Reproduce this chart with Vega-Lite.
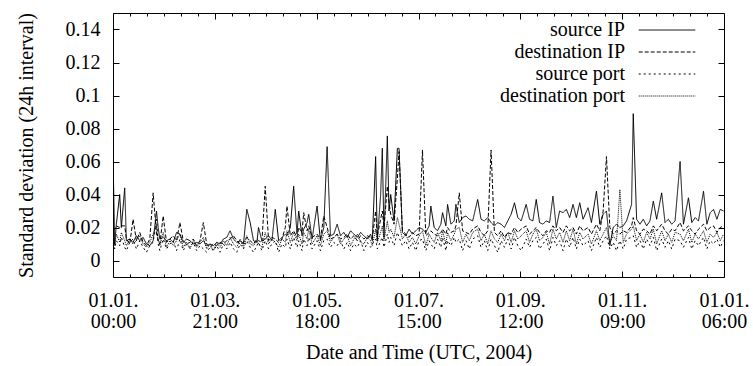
{
"$schema": "https://vega.github.io/schema/vega-lite/v6.json",
"width": 611, "height": 264,
"autosize": {"type": "none"},
"padding": {"left": 113, "top": 13, "right": 29, "bottom": 89},
"background": "white",
"config": {
 "font": "Liberation Serif",
 "view": {"stroke": "black", "strokeWidth": 1},
 "axis": {"domain": false, "grid": false, "tickColor": "black", "tickWidth": 1, "labelColor": "black", "labelFontSize": 20, "labelFont": "Liberation Serif", "titleFont": "Liberation Serif", "titleFontSize": 20, "titleFontWeight": "normal", "titleColor": "black"}
},
"data": {"values": [
{"d":0,"a":0.065,"b":0.020,"c":0.020,"e":0.018},
{"d":1,"a":0.010,"b":0.019,"c":0.007,"e":0.009},
{"d":2,"a":0.022,"b":0.021,"c":0.012,"e":0.016},
{"d":4,"a":0.040,"b":0.020,"c":0.009,"e":0.011},
{"d":5,"a":0.020,"b":0.021,"c":0.014,"e":0.017},
{"d":7,"a":0.044,"b":0.021,"c":0.008,"e":0.012},
{"d":8,"a":0.012,"b":0.013,"c":0.006,"e":0.009},
{"d":10,"a":0.013,"b":0.010,"c":0.011,"e":0.013},
{"d":12,"a":0.011,"b":0.025,"c":0.013,"e":0.010},
{"d":14,"a":0.015,"b":0.012,"c":0.007,"e":0.012},
{"d":16,"a":0.012,"b":0.017,"c":0.012,"e":0.015},
{"d":18,"a":0.014,"b":0.011,"c":0.008,"e":0.010},
{"d":20,"a":0.010,"b":0.009,"c":0.005,"e":0.008},
{"d":22,"a":0.009,"b":0.013,"c":0.009,"e":0.011},
{"d":24,"a":0.012,"b":0.041,"c":0.011,"e":0.016},
{"d":26,"a":0.030,"b":0.016,"c":0.025,"e":0.021},
{"d":27,"a":0.020,"b":0.012,"c":0.010,"e":0.013},
{"d":28,"a":0.013,"b":0.010,"c":0.006,"e":0.009},
{"d":30,"a":0.014,"b":0.027,"c":0.013,"e":0.017},
{"d":32,"a":0.012,"b":0.011,"c":0.007,"e":0.008},
{"d":34,"a":0.013,"b":0.013,"c":0.010,"e":0.012},
{"d":36,"a":0.011,"b":0.015,"c":0.012,"e":0.009},
{"d":38,"a":0.017,"b":0.012,"c":0.006,"e":0.012},
{"d":40,"a":0.016,"b":0.023,"c":0.013,"e":0.016},
{"d":42,"a":0.011,"b":0.012,"c":0.006,"e":0.008},
{"d":44,"a":0.013,"b":0.010,"c":0.010,"e":0.011},
{"d":46,"a":0.012,"b":0.011,"c":0.008,"e":0.007},
{"d":48,"a":0.010,"b":0.013,"c":0.011,"e":0.012},
{"d":50,"a":0.011,"b":0.009,"c":0.006,"e":0.008},
{"d":52,"a":0.010,"b":0.012,"c":0.009,"e":0.011},
{"d":54,"a":0.012,"b":0.023,"c":0.007,"e":0.014},
{"d":56,"a":0.009,"b":0.010,"c":0.005,"e":0.007},
{"d":58,"a":0.010,"b":0.008,"c":0.008,"e":0.010},
{"d":60,"a":0.009,"b":0.010,"c":0.006,"e":0.006},
{"d":62,"a":0.011,"b":0.009,"c":0.009,"e":0.011},
{"d":64,"a":0.010,"b":0.011,"c":0.005,"e":0.008},
{"d":66,"a":0.013,"b":0.010,"c":0.010,"e":0.012},
{"d":68,"a":0.014,"b":0.012,"c":0.007,"e":0.009},
{"d":70,"a":0.018,"b":0.013,"c":0.011,"e":0.014},
{"d":72,"a":0.013,"b":0.015,"c":0.007,"e":0.010},
{"d":74,"a":0.011,"b":0.012,"c":0.005,"e":0.008},
{"d":76,"a":0.012,"b":0.010,"c":0.010,"e":0.013},
{"d":78,"a":0.010,"b":0.011,"c":0.007,"e":0.008},
{"d":80,"a":0.031,"b":0.014,"c":0.012,"e":0.015},
{"d":82,"a":0.023,"b":0.012,"c":0.008,"e":0.010},
{"d":84,"a":0.012,"b":0.010,"c":0.005,"e":0.009},
{"d":86,"a":0.011,"b":0.013,"c":0.009,"e":0.012},
{"d":87,"a":0.020,"b":0.012,"c":0.011,"e":0.010},
{"d":89,"a":0.012,"b":0.011,"c":0.006,"e":0.008},
{"d":91,"a":0.013,"b":0.045,"c":0.012,"e":0.017},
{"d":93,"a":0.015,"b":0.012,"c":0.007,"e":0.010},
{"d":95,"a":0.012,"b":0.014,"c":0.010,"e":0.013},
{"d":97,"a":0.031,"b":0.013,"c":0.012,"e":0.011},
{"d":99,"a":0.012,"b":0.011,"c":0.005,"e":0.008},
{"d":101,"a":0.014,"b":0.013,"c":0.010,"e":0.013},
{"d":103,"a":0.016,"b":0.020,"c":0.008,"e":0.011},
{"d":104,"a":0.015,"b":0.033,"c":0.013,"e":0.018},
{"d":106,"a":0.020,"b":0.015,"c":0.007,"e":0.011},
{"d":108,"a":0.045,"b":0.018,"c":0.014,"e":0.017},
{"d":110,"a":0.016,"b":0.014,"c":0.008,"e":0.012},
{"d":111,"a":0.030,"b":0.020,"c":0.012,"e":0.016},
{"d":113,"a":0.015,"b":0.017,"c":0.006,"e":0.010},
{"d":114,"a":0.019,"b":0.029,"c":0.013,"e":0.017},
{"d":116,"a":0.023,"b":0.018,"c":0.009,"e":0.013},
{"d":117,"a":0.028,"b":0.021,"c":0.014,"e":0.019},
{"d":119,"a":0.013,"b":0.014,"c":0.007,"e":0.010},
{"d":122,"a":0.033,"b":0.016,"c":0.012,"e":0.015},
{"d":124,"a":0.012,"b":0.013,"c":0.006,"e":0.009},
{"d":126,"a":0.020,"b":0.027,"c":0.012,"e":0.016},
{"d":128,"a":0.069,"b":0.020,"c":0.013,"e":0.018},
{"d":130,"a":0.015,"b":0.013,"c":0.008,"e":0.011},
{"d":132,"a":0.016,"b":0.014,"c":0.011,"e":0.014},
{"d":134,"a":0.022,"b":0.016,"c":0.009,"e":0.016},
{"d":136,"a":0.015,"b":0.013,"c":0.012,"e":0.010},
{"d":138,"a":0.017,"b":0.014,"c":0.007,"e":0.013},
{"d":140,"a":0.014,"b":0.016,"c":0.011,"e":0.015},
{"d":142,"a":0.018,"b":0.013,"c":0.006,"e":0.009},
{"d":144,"a":0.016,"b":0.015,"c":0.010,"e":0.013},
{"d":146,"a":0.014,"b":0.012,"c":0.008,"e":0.016},
{"d":148,"a":0.017,"b":0.015,"c":0.012,"e":0.011},
{"d":150,"a":0.015,"b":0.013,"c":0.006,"e":0.010},
{"d":152,"a":0.013,"b":0.015,"c":0.011,"e":0.014},
{"d":154,"a":0.016,"b":0.014,"c":0.008,"e":0.012},
{"d":155,"a":0.012,"b":0.013,"c":0.010,"e":0.009},
{"d":157,"a":0.063,"b":0.030,"c":0.013,"e":0.019},
{"d":158,"a":0.012,"b":0.015,"c":0.007,"e":0.011},
{"d":160,"a":0.040,"b":0.025,"c":0.012,"e":0.017},
{"d":161,"a":0.068,"b":0.030,"c":0.014,"e":0.021},
{"d":162,"a":0.014,"b":0.020,"c":0.008,"e":0.012},
{"d":164,"a":0.0755,"b":0.045,"c":0.016,"e":0.024},
{"d":165,"a":0.030,"b":0.035,"c":0.011,"e":0.017},
{"d":166,"a":0.040,"b":0.028,"c":0.014,"e":0.019},
{"d":168,"a":0.024,"b":0.022,"c":0.009,"e":0.014},
{"d":170,"a":0.068,"b":0.050,"c":0.017,"e":0.026},
{"d":171,"a":0.068,"b":0.066,"c":0.014,"e":0.022},
{"d":173,"a":0.017,"b":0.018,"c":0.009,"e":0.013},
{"d":175,"a":0.015,"b":0.016,"c":0.012,"e":0.016},
{"d":177,"a":0.019,"b":0.014,"c":0.007,"e":0.011},
{"d":179,"a":0.016,"b":0.017,"c":0.011,"e":0.014},
{"d":181,"a":0.018,"b":0.015,"c":0.006,"e":0.010},
{"d":183,"a":0.020,"b":0.016,"c":0.012,"e":0.015},
{"d":185,"a":0.019,"b":0.067,"c":0.013,"e":0.018},
{"d":187,"a":0.017,"b":0.015,"c":0.006,"e":0.009},
{"d":189,"a":0.021,"b":0.017,"c":0.012,"e":0.016},
{"d":190,"a":0.033,"b":0.018,"c":0.010,"e":0.014},
{"d":192,"a":0.020,"b":0.016,"c":0.007,"e":0.011},
{"d":194,"a":0.018,"b":0.015,"c":0.013,"e":0.017},
{"d":196,"a":0.022,"b":0.017,"c":0.008,"e":0.012},
{"d":197,"a":0.029,"b":0.019,"c":0.014,"e":0.018},
{"d":199,"a":0.021,"b":0.016,"c":0.006,"e":0.010},
{"d":200,"a":0.034,"b":0.020,"c":0.012,"e":0.017},
{"d":202,"a":0.022,"b":0.017,"c":0.009,"e":0.012},
{"d":204,"a":0.024,"b":0.018,"c":0.014,"e":0.016},
{"d":205,"a":0.034,"b":0.021,"c":0.011,"e":0.019},
{"d":207,"a":0.023,"b":0.041,"c":0.013,"e":0.020},
{"d":209,"a":0.026,"b":0.018,"c":0.006,"e":0.011},
{"d":211,"a":0.027,"b":0.017,"c":0.012,"e":0.016},
{"d":213,"a":0.025,"b":0.016,"c":0.007,"e":0.012},
{"d":215,"a":0.024,"b":0.019,"c":0.013,"e":0.017},
{"d":218,"a":0.037,"b":0.021,"c":0.015,"e":0.019},
{"d":220,"a":0.025,"b":0.017,"c":0.008,"e":0.012},
{"d":222,"a":0.024,"b":0.015,"c":0.012,"e":0.016},
{"d":224,"a":0.026,"b":0.018,"c":0.006,"e":0.010},
{"d":226,"a":0.023,"b":0.067,"c":0.013,"e":0.018},
{"d":228,"a":0.021,"b":0.017,"c":0.009,"e":0.013},
{"d":230,"a":0.023,"b":0.015,"c":0.005,"e":0.011},
{"d":232,"a":0.022,"b":0.018,"c":0.012,"e":0.016},
{"d":234,"a":0.020,"b":0.014,"c":0.008,"e":0.012},
{"d":236,"a":0.024,"b":0.017,"c":0.013,"e":0.017},
{"d":238,"a":0.028,"b":0.016,"c":0.007,"e":0.011},
{"d":240,"a":0.035,"b":0.020,"c":0.014,"e":0.018},
{"d":242,"a":0.026,"b":0.017,"c":0.009,"e":0.013},
{"d":244,"a":0.024,"b":0.019,"c":0.006,"e":0.015},
{"d":247,"a":0.034,"b":0.021,"c":0.013,"e":0.018},
{"d":249,"a":0.025,"b":0.016,"c":0.008,"e":0.011},
{"d":251,"a":0.024,"b":0.018,"c":0.012,"e":0.016},
{"d":253,"a":0.037,"b":0.020,"c":0.014,"e":0.019},
{"d":255,"a":0.023,"b":0.017,"c":0.007,"e":0.012},
{"d":257,"a":0.022,"b":0.015,"c":0.010,"e":0.014},
{"d":259,"a":0.024,"b":0.018,"c":0.013,"e":0.017},
{"d":261,"a":0.023,"b":0.017,"c":0.006,"e":0.010},
{"d":263,"a":0.039,"b":0.021,"c":0.014,"e":0.019},
{"d":265,"a":0.020,"b":0.018,"c":0.009,"e":0.013},
{"d":267,"a":0.030,"b":0.020,"c":0.012,"e":0.017},
{"d":269,"a":0.029,"b":0.017,"c":0.006,"e":0.011},
{"d":271,"a":0.031,"b":0.021,"c":0.013,"e":0.018},
{"d":273,"a":0.026,"b":0.018,"c":0.008,"e":0.012},
{"d":275,"a":0.034,"b":0.020,"c":0.014,"e":0.019},
{"d":277,"a":0.026,"b":0.016,"c":0.007,"e":0.010},
{"d":279,"a":0.035,"b":0.021,"c":0.013,"e":0.017},
{"d":281,"a":0.025,"b":0.018,"c":0.009,"e":0.013},
{"d":284,"a":0.032,"b":0.020,"c":0.012,"e":0.016},
{"d":286,"a":0.023,"b":0.016,"c":0.006,"e":0.010},
{"d":289,"a":0.042,"b":0.022,"c":0.014,"e":0.018},
{"d":291,"a":0.022,"b":0.018,"c":0.008,"e":0.012},
{"d":293,"a":0.028,"b":0.030,"c":0.012,"e":0.016},
{"d":295,"a":0.030,"b":0.063,"c":0.015,"e":0.020},
{"d":297,"a":0.009,"b":0.020,"c":0.007,"e":0.011},
{"d":299,"a":0.020,"b":0.016,"c":0.011,"e":0.015},
{"d":301,"a":0.022,"b":0.018,"c":0.006,"e":0.012},
{"d":303,"a":0.020,"b":0.016,"c":0.012,"e":0.043},
{"d":305,"a":0.021,"b":0.018,"c":0.007,"e":0.011},
{"d":307,"a":0.024,"b":0.017,"c":0.013,"e":0.016},
{"d":310,"a":0.034,"b":0.021,"c":0.014,"e":0.019},
{"d":311,"a":0.089,"b":0.026,"c":0.015,"e":0.021},
{"d":313,"a":0.025,"b":0.018,"c":0.008,"e":0.012},
{"d":315,"a":0.022,"b":0.016,"c":0.012,"e":0.016},
{"d":317,"a":0.025,"b":0.019,"c":0.007,"e":0.011},
{"d":319,"a":0.021,"b":0.018,"c":0.013,"e":0.017},
{"d":321,"a":0.024,"b":0.016,"c":0.009,"e":0.013},
{"d":323,"a":0.036,"b":0.021,"c":0.014,"e":0.019},
{"d":325,"a":0.025,"b":0.018,"c":0.006,"e":0.010},
{"d":328,"a":0.041,"b":0.022,"c":0.013,"e":0.018},
{"d":330,"a":0.023,"b":0.018,"c":0.008,"e":0.012},
{"d":332,"a":0.025,"b":0.016,"c":0.012,"e":0.016},
{"d":334,"a":0.022,"b":0.019,"c":0.007,"e":0.011},
{"d":336,"a":0.024,"b":0.018,"c":0.013,"e":0.017},
{"d":339,"a":0.060,"b":0.023,"c":0.012,"e":0.016},
{"d":341,"a":0.022,"b":0.018,"c":0.008,"e":0.012},
{"d":344,"a":0.038,"b":0.021,"c":0.014,"e":0.019},
{"d":346,"a":0.023,"b":0.018,"c":0.007,"e":0.011},
{"d":348,"a":0.026,"b":0.016,"c":0.012,"e":0.016},
{"d":350,"a":0.024,"b":0.019,"c":0.009,"e":0.013},
{"d":353,"a":0.042,"b":0.022,"c":0.014,"e":0.018},
{"d":355,"a":0.022,"b":0.018,"c":0.007,"e":0.011},
{"d":357,"a":0.029,"b":0.020,"c":0.012,"e":0.016},
{"d":359,"a":0.031,"b":0.021,"c":0.010,"e":0.014},
{"d":361,"a":0.025,"b":0.017,"c":0.013,"e":0.017},
{"d":363,"a":0.031,"b":0.020,"c":0.008,"e":0.012},
{"d":365,"a":0.030,"b":0.021,"c":0.012,"e":0.016}
]},
"transform": [{"fold": ["a", "b", "c", "e"], "as": ["s", "v"]}],
"layer": [
 {
  "mark": {"type": "line", "color": "black", "strokeWidth": 1, "clip": true},
  "encoding": {
   "x": {"field": "d", "type": "quantitative",
    "scale": {"domain": [0, 365.25], "nice": false, "zero": false},
    "axis": {"orient": "bottom",
     "values": [0,10.1458,20.2917,30.4375,40.5833,50.7292,60.875,71.0208,81.1667,91.3125,101.4583,111.6042,121.75,131.8958,142.0417,152.1875,162.3333,172.4792,182.625,192.7708,202.9167,213.0625,223.2083,233.3542,243.5,253.6458,263.7917,273.9375,284.0833,294.2292,304.375,314.5208,324.6667,334.8125,344.9583,355.1042,365.25],
     "tickSize": {"condition": {"test": "abs(datum.value/60.875 - round(datum.value/60.875)) < 0.01", "value": -6}, "value": -3},
     "labelExpr": "abs(datum.value/60.875 - round(datum.value/60.875)) > 0.01 ? '' : [['01.01.','00:00'],['01.03.','21:00'],['01.05.','18:00'],['01.07.','15:00'],['01.09.','12:00'],['01.11.','09:00'],['01.01.','06:00']][round(datum.value/60.875)]",
     "labelPadding": 19, "labelLineHeight": 21, "labelBaseline": "top", "labelFlush": false, "labelOverlap": false,
     "title": "Date and Time (UTC, 2004)", "titlePadding": 11}},
   "y": {"field": "v", "type": "quantitative",
    "scale": {"domain": [-0.01, 0.15], "nice": false, "zero": false},
    "axis": {"orient": "left", "values": [0,0.02,0.04,0.06,0.08,0.1,0.12,0.14], "format": "~g",
     "tickSize": -6, "labelPadding": 19, "labelOverlap": false,
     "title": "Standard deviation (24h interval)", "titlePadding": 29}},
   "strokeDash": {"field": "s", "type": "nominal",
    "scale": {"domain": ["a", "b", "c", "e"], "range": [[1, 0], [4, 2], [2, 3], [1, 1]]},
    "legend": {"orient": "none", "legendX": 544, "legendY": 7, "title": null, "padding": 0,
     "symbolType": "M-5,0H5", "symbolSize": 128, "symbolStrokeWidth": 1, "symbolStrokeColor": "black", "symbolFillColor": "transparent",
     "labelAlign": "right", "labelOffset": -52, "labelFontSize": 20, "labelFont": "Liberation Serif", "labelColor": "black", "labelLimit": 300,
     "rowPadding": 2,
     "labelExpr": "datum.value == 'a' ? 'source IP' : datum.value == 'b' ? 'destination IP' : datum.value == 'c' ? 'source port' : 'destination port'"}}
  }
 },
 {
  "mark": {"type": "point", "opacity": 0},
  "encoding": {
   "x": {"field": "d", "type": "quantitative",
    "axis": {"orient": "top",
     "values": [0,10.1458,20.2917,30.4375,40.5833,50.7292,60.875,71.0208,81.1667,91.3125,101.4583,111.6042,121.75,131.8958,142.0417,152.1875,162.3333,172.4792,182.625,192.7708,202.9167,213.0625,223.2083,233.3542,243.5,253.6458,263.7917,273.9375,284.0833,294.2292,304.375,314.5208,324.6667,334.8125,344.9583,355.1042,365.25],
     "tickSize": {"condition": {"test": "abs(datum.value/60.875 - round(datum.value/60.875)) < 0.01", "value": -6}, "value": -3},
     "labels": false, "title": null}},
   "y": {"field": "v", "type": "quantitative",
    "axis": {"orient": "right", "values": [0,0.02,0.04,0.06,0.08,0.1,0.12,0.14], "tickSize": -6, "labels": false, "title": null}}
  }
 }
],
"resolve": {"axis": {"x": "independent", "y": "independent"}}
}
